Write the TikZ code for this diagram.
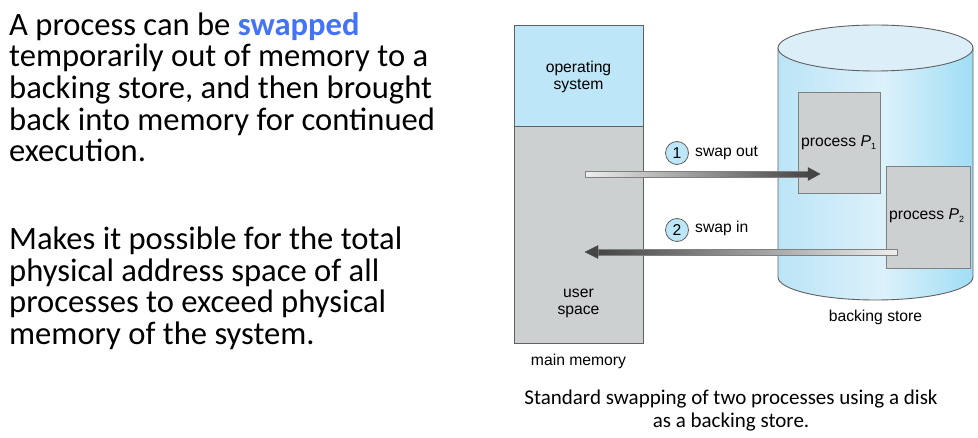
\documentclass[tikz,border=0pt]{standalone}
\usepackage{fontspec}
\setmainfont{Carlito}
\newfontfamily\arial{Liberation Sans}
\usetikzlibrary{calc}
\definecolor{swapblue}{HTML}{4472F8}
\definecolor{osblue}{HTML}{BDE6F8}
\definecolor{procgray}{HTML}{CDD0D0}
\definecolor{edgegray}{HTML}{606060}
\definecolor{cylA}{HTML}{A9DEF5}
\definecolor{cylB}{HTML}{DCF1FA}
\definecolor{cylC}{HTML}{93D9F4}
\definecolor{cylD}{HTML}{2EC4F4}
\definecolor{cyltop}{HTML}{DCEFF9}
\definecolor{arrowlight}{HTML}{EEEEEE}
\definecolor{arrowdark}{HTML}{454545}
\pgfdeclarehorizontalshading{cylshade}{100bp}{color(0bp)=(cylA); color(25bp)=(cylA!65!cylB); color(52bp)=(cylB); color(80bp)=(cylC); color(100bp)=(cylD)}
\tikzset{
  lbl/.style={font=\arial\fontsize{15.7}{17}\selectfont, inner sep=0pt, anchor=base},
  body/.style={font=\fontsize{32.6}{34}\selectfont, inner sep=0pt, anchor=base west},
  captxt/.style={font=\fontsize{21}{24}\selectfont, inner sep=0pt, anchor=base},
  membox/.style={draw=edgegray, line width=0.9pt, inner sep=0pt},
  procbox/.style={draw=edgegray!80, fill=procgray, line width=0.9pt, inner sep=0pt},
  numcirc/.style={circle, draw=edgegray, fill=osblue, line width=0.8pt, minimum size=23pt, inner sep=0pt, font=\arial\fontsize{15.7}{17}\selectfont},
  arrowbody/.style={draw=gray, line width=0.5pt},
  arrowhead/.style={fill=arrowdark, draw=arrowdark, line width=0.4pt},
}
\begin{document}
\begin{tikzpicture}[x=1pt, y=-1pt]
\useasboundingbox (0,0) rectangle (978,438);

% explanatory text
\node[body] (t1) at (9,36) {A process can be \textcolor{swapblue}{\textbf{swapped}}};
\node[body] (t2) at (9,67) {temporarily out of memory to a};
\node[body] (t3) at (9,99) {backing store, and then brought};
\node[body] (t4) at (9,131) {back into memory for continued};
\node[body] (t5) at (9,162) {execution.};
\node[body] (t6) at (9,250) {Makes it possible for the total};
\node[body] (t7) at (9,282) {physical address space of all};
\node[body] (t8) at (9,313) {processes to exceed physical};
\node[body] (t9) at (9,345) {memory of the system.};

% main memory
\node[membox, fill=osblue, minimum width=129pt, minimum height=101pt, anchor=north west] (os) at (514,25) {};
\node[membox, fill=procgray, minimum width=129pt, minimum height=217pt, anchor=north west] (user) at (514,126) {};
\node[lbl] (ostxt1) at (578.5,73) {operating};
\node[lbl] (ostxt2) at (578.5,90) {system};
\node[lbl] (ustxt1) at (578.5,298) {user};
\node[lbl] (ustxt2) at (578.5,315) {space};
\node[lbl] (mmtxt) at (578.5,366) {main memory};

% backing store cylinder
\shade[shading=cylshade, draw=edgegray, line width=0.9pt]
  (778,48) -- (778,277) arc[start angle=180, end angle=0, x radius=97.5, y radius=23] -- (973,48) -- cycle;
\filldraw[fill=cyltop, draw=edgegray, line width=0.9pt] (875.5,48) ellipse[x radius=97.5, y radius=23];
\node[lbl] (bstxt) at (875.5,322) {backing store};

% processes on the disk
\node[procbox, minimum width=82pt, minimum height=101pt, anchor=north west] (p1) at (798,92) {};
\node[procbox, minimum width=84pt, minimum height=102pt, anchor=north west] (p2) at (886,166) {};
\node[lbl, anchor=base west] (p1txt) at (801,147) {process \textit{P}\raisebox{-2.5pt}{\fontsize{9}{9}\selectfont 1}};
\node[lbl, anchor=base west] (p2txt) at (889,220) {process \textit{P}\raisebox{-2.5pt}{\fontsize{9}{9}\selectfont 2}};

% swap out: user space -> process P1
\coordinate (soA) at (585,174);
\coordinate (soB) at (808,174);
\coordinate (soTip) at (820,174);
\shade[left color=arrowlight, right color=arrowdark, arrowbody] ($(soA)+(0,-2.8)$) rectangle ($(soB)+(0,2.8)$);
\filldraw[arrowhead] ($(soB)+(0,-6.5)$) -- (soTip) -- ($(soB)+(0,6.5)$) -- cycle;
\node[numcirc] (n1) at (677,153) {1};
\node[lbl, anchor=base west] (sotxt) at (695,157) {swap out};

% swap in: process P2 -> user space
\coordinate (siA) at (897,252);
\coordinate (siB) at (598,252);
\coordinate (siTip) at (585,252);
\shade[left color=arrowdark, right color=arrowlight, arrowbody] ($(siB)+(0,-2.8)$) rectangle ($(siA)+(0,2.8)$);
\filldraw[arrowhead] ($(siB)+(0,-6.5)$) -- (siTip) -- ($(siB)+(0,6.5)$) -- cycle;
\node[numcirc] (n2) at (677,230) {2};
\node[lbl, anchor=base west] (sitxt) at (695,233) {swap in};

% caption
\node[captxt] (c1) at (731,405) {Standard swapping of two processes using a disk};
\node[captxt] (c2) at (731,428) {as a backing store.};
\end{tikzpicture}
\end{document}
